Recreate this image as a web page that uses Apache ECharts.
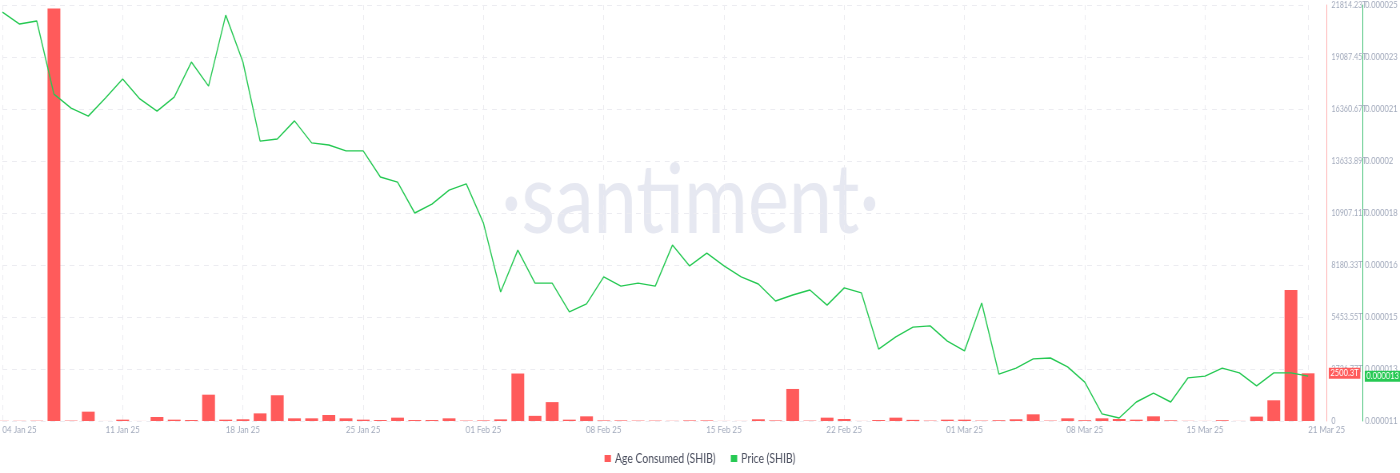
<!DOCTYPE html>
<html>
<head>
<meta charset="utf-8">
<script src="https://cdn.jsdelivr.net/npm/echarts@6/dist/echarts.min.js"></script>
<style>
  html, body { margin: 0; padding: 0; background: #fff; overflow: hidden; width: 1400px; height: 473px; }
  #chart { width: 1750px; height: 473px; transform: scaleX(0.8); transform-origin: 0 0; }
</style>
</head>
<body>
<div id="chart"></div>
<script>
const dates = [
  '04 Jan 25','05 Jan 25','06 Jan 25','07 Jan 25','08 Jan 25','09 Jan 25','10 Jan 25',
  '11 Jan 25','12 Jan 25','13 Jan 25','14 Jan 25','15 Jan 25','16 Jan 25','17 Jan 25',
  '18 Jan 25','19 Jan 25','20 Jan 25','21 Jan 25','22 Jan 25','23 Jan 25','24 Jan 25',
  '25 Jan 25','26 Jan 25','27 Jan 25','28 Jan 25','29 Jan 25','30 Jan 25','31 Jan 25',
  '01 Feb 25','02 Feb 25','03 Feb 25','04 Feb 25','05 Feb 25','06 Feb 25','07 Feb 25',
  '08 Feb 25','09 Feb 25','10 Feb 25','11 Feb 25','12 Feb 25','13 Feb 25','14 Feb 25',
  '15 Feb 25','16 Feb 25','17 Feb 25','18 Feb 25','19 Feb 25','20 Feb 25','21 Feb 25',
  '22 Feb 25','23 Feb 25','24 Feb 25','25 Feb 25','26 Feb 25','27 Feb 25','28 Feb 25',
  '01 Mar 25','02 Mar 25','03 Mar 25','04 Mar 25','05 Mar 25','06 Mar 25','07 Mar 25',
  '08 Mar 25','09 Mar 25','10 Mar 25','11 Mar 25','12 Mar 25','13 Mar 25','14 Mar 25',
  '15 Mar 25','16 Mar 25','17 Mar 25','18 Mar 25','19 Mar 25','20 Mar 25','21 Mar 25'
];

// Age Consumed (SHIB), in trillions (T)
const ageConsumed = [
  10, 10, 15, 21630, 20, 490, 3, 70, 3, 210,
  70, 50, 1380, 70, 90, 400, 1350, 140, 140, 315,
  140, 70, 50, 175, 50, 50, 140, 20, 30, 85,
  2490, 270, 990, 70, 245, 30, 30, 20, 20, 10,
  30, 30, 5, 5, 90, 30, 1680, 20, 175, 105,
  5, 50, 175, 60, 20, 70, 70, 20, 40, 90,
  350, 20, 140, 40, 140, 105, 70, 245, 35, 10,
  5, 40, 5, 230, 1085, 6870, 2500.3
];

// Price (SHIB), USD
const price = [
  0.00002476, 0.00002436, 0.00002446, 0.00002200, 0.00002153, 0.00002126, 0.00002187, 0.00002251, 0.00002184, 0.00002143,
  0.00002190, 0.00002308, 0.00002227, 0.00002466, 0.00002308, 0.00002042, 0.00002049, 0.00002110, 0.00002036, 0.00002029,
  0.00002009, 0.00002009, 0.00001921, 0.00001904, 0.00001800, 0.00001830, 0.00001877, 0.00001898, 0.00001766, 0.00001534,
  0.00001675, 0.00001564, 0.00001564, 0.00001467, 0.00001494, 0.00001585, 0.00001554, 0.00001564, 0.00001554, 0.00001692,
  0.00001622, 0.00001665, 0.00001622, 0.00001585, 0.00001561, 0.00001504, 0.00001524, 0.00001541, 0.00001490, 0.00001548,
  0.00001531, 0.00001342, 0.00001383, 0.00001416, 0.00001420, 0.00001369, 0.00001336, 0.00001497, 0.00001258, 0.00001278,
  0.00001309, 0.00001312, 0.00001282, 0.00001231, 0.00001124, 0.00001110, 0.00001164, 0.00001194, 0.00001164, 0.00001245,
  0.00001251, 0.00001278, 0.00001262, 0.00001218, 0.00001262, 0.00001262, 0.00001251
];

const ageMax = 21814.23;
const ageInterval = 2726.77875;
const ageTickLabels = ['0','2726.77T','5453.55T','8180.33T','10907.11T','13633.89T','16360.67T','19087.45T','21814.23T'];

const priceMin = 0.000011;
const priceMax = 0.000025;
const priceTickValues = [0.000011, 0.00001275, 0.0000145, 0.00001625, 0.000018, 0.00001975, 0.0000215, 0.00002325, 0.000025];
const priceTickLabels = ['0.000011','0.000013','0.000015','0.000016','0.000018','0.00002','0.000021','0.000023','0.000025'];

const RED = '#ff5b5b';
const GREEN = '#26c953';
const LABEL = '#a2aabc';
const GRIDC = '#ececf1';
const FONT = 'Lato';

const lastIdx = dates.length - 1;
const showTick = (idx) => idx % 7 === 0 || idx === lastIdx;

const chart = echarts.init(document.getElementById('chart'), null, { renderer: 'canvas' });

const option = {
  animation: false,
  backgroundColor: '#ffffff',
  grid: { left: 0, right: 114, top: 5, bottom: 52, containLabel: false },
  legend: {
    top: 447,
    left: 'center',
    icon: 'rect',
    itemWidth: 8,
    itemHeight: 7,
    itemGap: 19,
    textStyle: { fontFamily: FONT, fontSize: 13, color: '#4a4e5e' },
    data: ['Age Consumed (SHIB)', 'Price (SHIB)']
  },
  graphic: [
    {
      id: 'wm', type: 'text', silent: true, z: -10,
      style: { text: '·santiment·', x: 863, y: 202, align: 'center', verticalAlign: 'middle',
               fontSize: 97, fontFamily: FONT, fontWeight: 'normal', fill: '#e6e8f1' }
    }
  ],
  xAxis: {
    type: 'category',
    data: dates,
    boundaryGap: false,
    axisLine: { show: false },
    axisTick: { show: false },
    axisLabel: {
      interval: (idx) => showTick(idx),
      color: LABEL, fontFamily: FONT, fontSize: 10, margin: 4,
      alignMinLabel: 'left', alignMaxLabel: 'left'
    },
    splitLine: { show: true, interval: (idx) => showTick(idx), lineStyle: { type: [5, 5], color: GRIDC, width: 1 } }
  },
  yAxis: [
    {
      type: 'value', position: 'right', offset: 23,
      min: 0, max: ageMax, interval: ageInterval,
      axisLine: { show: true, lineStyle: { color: '#ffb0b0', width: 1 } },
      axisTick: { show: false },
      axisLabel: {
        margin: 6, color: LABEL, fontFamily: FONT, fontSize: 9,
        formatter: (v) => ageTickLabels[Math.round(v / ageInterval)] || ''
      },
      splitLine: { show: true, lineStyle: { type: [6, 6], color: GRIDC, width: 1 } }
    },
    {
      type: 'value', position: 'right', offset: 68,
      min: priceMin, max: priceMax,
      axisLine: { show: true, lineStyle: { color: '#3dbf72', width: 1 } },
      axisTick: { show: false },
      axisLabel: {
        customValues: priceTickValues,
        margin: 3, color: LABEL, fontFamily: FONT, fontSize: 9.5,
        formatter: (v) => {
          let best = 0, d = Infinity;
          priceTickValues.forEach((t, i) => { const dd = Math.abs(t - v); if (dd < d) { d = dd; best = i; } });
          return priceTickLabels[best];
        }
      },
      splitLine: { show: false }
    }
  ],
  series: [
    {
      name: 'Age Consumed (SHIB)',
      type: 'bar',
      yAxisIndex: 0,
      data: ageConsumed,
      barWidth: 16,
      itemStyle: { color: RED },
      clip: true
    },
    {
      name: 'Price (SHIB)',
      type: 'line',
      yAxisIndex: 1,
      data: price,
      symbol: 'none',
      lineStyle: { color: GREEN, width: 1.4 },
      itemStyle: { color: GREEN }
    }
  ]
};

chart.setOption(option);

const ageLast = ageConsumed[lastIdx];
const priceLast = price[lastIdx];
const yAge = chart.convertToPixel({ yAxisIndex: 0 }, ageLast);
const yPrice = chart.convertToPixel({ yAxisIndex: 1 }, priceLast);

chart.setOption({
  graphic: [
    { id: 'wm' },
    {
      id: 'ageTag', type: 'text', silent: true, z: 100,
      style: { text: ageLast.toFixed(1) + 'T', x: 1661, y: yAge, verticalAlign: 'middle',
               fontSize: 9.5, fontFamily: FONT, fill: '#ffffff', backgroundColor: RED, padding: [1, 2, 0, 2] }
    },
    {
      id: 'priceTag', type: 'text', silent: true, z: 100,
      style: { text: priceLast.toFixed(6), x: 1706, y: yPrice, verticalAlign: 'middle',
               fontSize: 9.5, fontFamily: FONT, fill: '#ffffff', backgroundColor: GREEN, padding: [1, 2, 0, 2] }
    }
  ]
});
</script>
</body>
</html>
